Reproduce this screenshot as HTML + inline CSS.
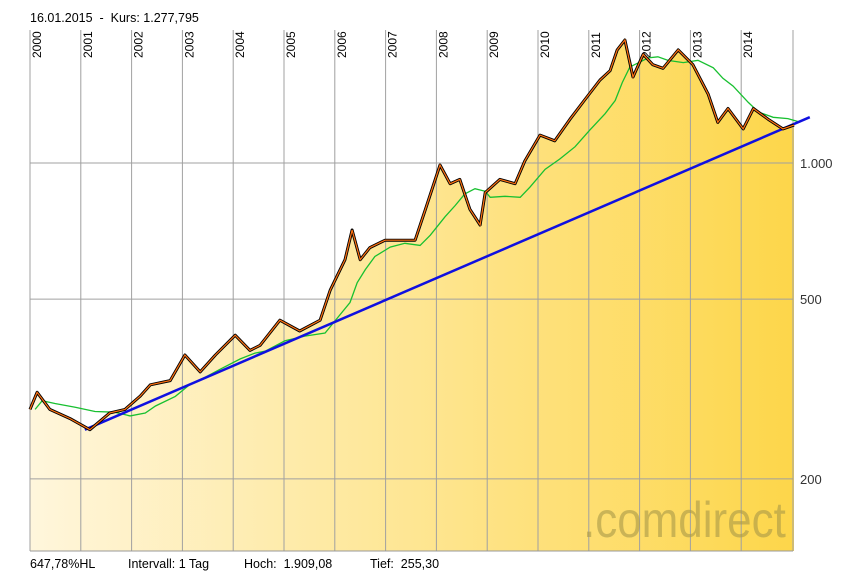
<!DOCTYPE html>
<html><head><meta charset="utf-8"><style>
body{margin:0;background:#fff;width:842px;height:577px;overflow:hidden;font-family:"Liberation Sans",sans-serif}
svg{display:block}
text{white-space:pre}
</style></head><body>
<svg id="chart" width="842" height="577" viewBox="0 0 842 577" xmlns="http://www.w3.org/2000/svg">
<defs>
<linearGradient id="fillg" x1="0" y1="0" x2="1" y2="0">
<stop offset="0" stop-color="#fff6dc"/><stop offset="1" stop-color="#fdd64a"/>
</linearGradient>
</defs>
<text x="30" y="22" font-size="12.5" fill="#000">16.01.2015  -  Kurs: 1.277,795</text>
<g id="fillLayer"></g>
<g id="gridLayer"></g>
<text x="583" y="537" font-size="50" fill="#a89848" fill-opacity="0.6" transform="translate(583 0) scale(0.88 1) translate(-583 0)">.comdirect</text>
<g id="lineLayer"></g>
<g id="axisLayer"></g>
<text x="30" y="568" font-size="12.5" fill="#000">647,78%HL</text>
<text x="128" y="568" font-size="12.5" fill="#000">Intervall: 1 Tag</text>
<text x="244" y="568" font-size="12.5" fill="#000">Hoch:  1.909,08</text>
<text x="370" y="568" font-size="12.5" fill="#000">Tief:  255,30</text>
</svg>
<script>
const years=[2000,2001,2002,2003,2004,2005,2006,2007,2008,2009,2010,2011,2012,2013,2014];
const yTicks=[1000,500,200];
const yTickLabels=["1.000","500","200"];
const dates=[2000.0,2000.14,2000.39,2000.79,2001.18,2001.57,2001.87,2002.17,2002.37,2002.76,2003.05,2003.35,2003.65,2004.04,2004.33,2004.53,2004.92,2005.31,2005.71,2005.91,2006.2,2006.34,2006.5,2006.69,2006.99,2007.28,2007.58,2007.78,2008.07,2008.27,2008.46,2008.66,2008.86,2008.96,2009.25,2009.55,2009.74,2010.04,2010.33,2010.63,2010.92,2011.22,2011.42,2011.56,2011.71,2011.87,2012.07,2012.26,2012.46,2012.76,2013.05,2013.35,2013.54,2013.74,2014.04,2014.24,2014.53,2014.82,2015.04];
const prices=[285,311,285,272,257,280,285,305,323,330,376,345,376,416,385,395,449,425,449,523,611,711,611,650,675,675,675,787,990,900,920,790,729,860,920,900,1010,1153,1120,1250,1379,1526,1600,1779,1871,1550,1740,1650,1620,1779,1650,1420,1230,1320,1190,1320,1250,1190,1213];
const trendDates=[2001.08,2015.35];
const trendValues=[257,1263];

const X0=30,PX=50.8,Y0=163,PY=452,BOT=551;
const xs=d=>X0+(d-2000)*PX;
const ys=v=>Y0-PY*Math.log10(v/1000);
const NS="http://www.w3.org/2000/svg";
function mk(tag,parent){const e=document.createElementNS(NS,tag);document.getElementById(parent).appendChild(e);return e;}

let pts=dates.map((d,i)=>xs(d).toFixed(1)+","+ys(prices[i]).toFixed(1));
const area=mk("polygon","fillLayer");
area.setAttribute("points",X0+","+BOT+" "+pts.join(" ")+" "+xs(dates[dates.length-1]).toFixed(1)+","+BOT);
area.setAttribute("fill","url(#fillg)");



years.forEach(y=>{
 const l=mk("line","gridLayer");
 l.setAttribute("x1",xs(y));l.setAttribute("x2",xs(y));l.setAttribute("y1",30);l.setAttribute("y2",BOT);
 l.setAttribute("stroke","#a0a0a0");l.setAttribute("stroke-width","1");
 
 
 const t=mk("text","gridLayer");
 t.textContent=y;t.setAttribute("font-size","12");
 t.setAttribute("transform","translate("+(xs(y)+11)+",58) rotate(-90)");
 
 
});
const endL=mk("line","gridLayer");
endL.setAttribute("x1",793);endL.setAttribute("x2",793);endL.setAttribute("y1",30);endL.setAttribute("y2",BOT);
endL.setAttribute("stroke","#a0a0a0");


yTicks.forEach((v,i)=>{
 const l=mk("line","gridLayer");
 l.setAttribute("x1",X0);l.setAttribute("x2",793);l.setAttribute("y1",ys(v));l.setAttribute("y2",ys(v));
 l.setAttribute("stroke","#a0a0a0");
 
 
 const t=mk("text","axisLayer");
 t.textContent=yTickLabels[i];t.setAttribute("x",800);t.setAttribute("y",ys(v)+5);t.setAttribute("font-size","13");t.setAttribute("fill","#333");
 
 
});
const base=mk("line","axisLayer");
base.setAttribute("x1",X0);base.setAttribute("x2",793);base.setAttribute("y1",BOT);base.setAttribute("y2",BOT);base.setAttribute("stroke","#999");



const ma=prices.map((p,i)=>{const s=prices.slice(Math.max(0,i-4),i+1);return s.reduce((a,b)=>a+b,0)/s.length;});
const maLine=mk("polyline","lineLayer");
maLine.setAttribute("points",dates.map((d,i)=>xs(d+0.1).toFixed(1)+","+ys(ma[i]).toFixed(1)).join(" "));
maLine.setAttribute("fill","none");maLine.setAttribute("stroke","#18c030");maLine.setAttribute("stroke-width","1.3");



const tr=mk("line","lineLayer");
tr.setAttribute("x1",xs(trendDates[0]));tr.setAttribute("y1",ys(trendValues[0]));
tr.setAttribute("x2",xs(trendDates[1]));tr.setAttribute("y2",ys(trendValues[1]));
tr.setAttribute("stroke","#1010e0");tr.setAttribute("stroke-width","2.5");



const pb=mk("polyline","lineLayer");
pb.setAttribute("points",pts.join(" "));pb.setAttribute("fill","none");pb.setAttribute("stroke","#000");pb.setAttribute("stroke-width","3");pb.setAttribute("stroke-linejoin","round");


const po=mk("polyline","lineLayer");
po.setAttribute("points",pts.join(" "));po.setAttribute("fill","none");po.setAttribute("stroke","#ff7010");po.setAttribute("stroke-width","1.2");


</script>
</body></html>
